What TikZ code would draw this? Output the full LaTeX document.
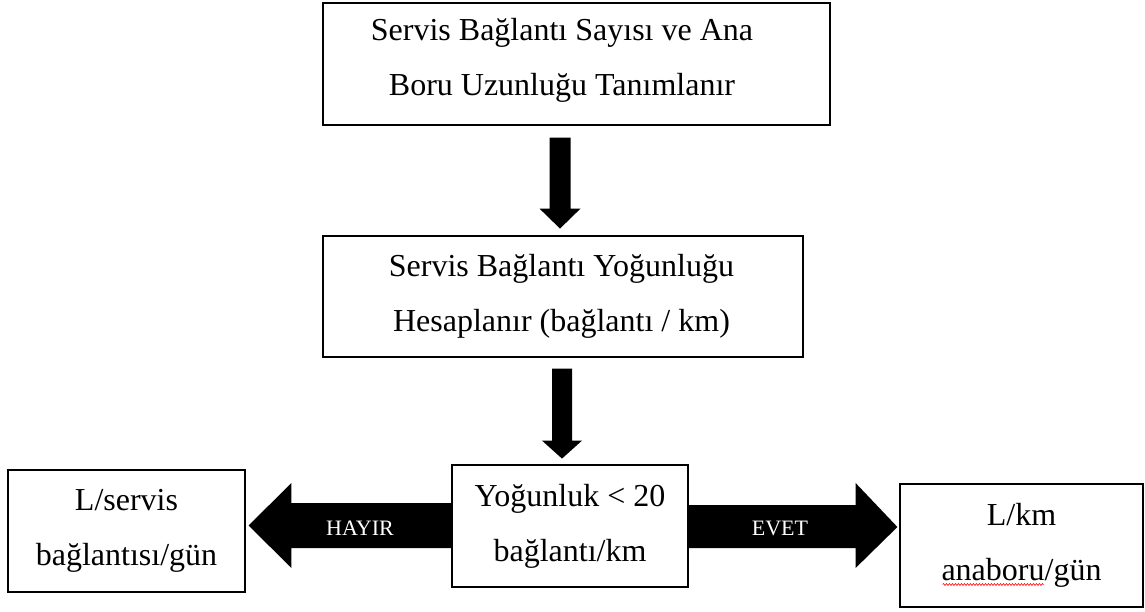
\documentclass[tikz,border=0pt]{standalone}
\usepackage{fontspec}
\setmainfont{Liberation Serif}
\usetikzlibrary{calc,decorations.pathmorphing}
\begin{document}
\begin{tikzpicture}[x=1pt,y=-1pt,
  box/.style={draw, line width=1.2pt, align=center, inner sep=0pt,
    font=\fontsize{32}{55}\selectfont},
  txt/.style={align=center, inner sep=0pt, font=\fontsize{32}{55}\selectfont},
  lbl/.style={text=white, font=\fontsize{22}{24}\selectfont, inner sep=0pt}]
\useasboundingbox (0,0) rectangle (1145,612);
\node[box, minimum width=507, minimum height=122] (b1) at (576.5,64) {};
\node[txt] (b1t) at (562,60) {Servis Bağlantı Sayısı ve Ana\\Boru Uzunluğu Tanımlanır};
\node[box, minimum width=480, minimum height=121] (b2) at (563,296.5) {};
\node[txt] (b2t) at (561.5,296) {Servis Bağlantı Yoğunluğu\\Hesaplanır (bağlantı / km)};
\node[box, minimum width=236, minimum height=122] (b3) at (570,526) {Yoğunluk < 20\\bağlantı/km};
\node[box, minimum width=237, minimum height=122] (bl) at (126.5,531) {L/servis\\bağlantısı/gün};
\node[box, minimum width=243, minimum height=123] (br) at (1021.5,545.5) {L/km\\anaboru/gün};
% down arrows
\fill ($(b1.south)+(-27,12)$) coordinate (a1) -- ++(21,0) -- ++(0,71) -- ++(10,0) -- ++(-20.5,20) -- ++(-20.5,-20) -- ++(10,0) -- cycle;
\fill ($(b2.south)+(-11,11)$) coordinate (a2) -- ++(20,0) -- ++(0,72) -- ++(10,0) -- ++(-20,18) -- ++(-20,-18) -- ++(10,0) -- cycle;
% left block arrow
\fill ($(b3.west)+(0,-23)$) -- ($(b3.west)+(-160,-23)$) -- ($(b3.west)+(-160,-43)$) -- ($(bl.east)+(3,-5.5)$) -- ($(b3.west)+(-160,42)$) -- ($(b3.west)+(-160,22)$) -- ($(b3.west)+(0,22)$) -- cycle;
% right block arrow
\fill ($(b3.east)+(0,-21)$) -- ($(b3.east)+(167,-21)$) -- ($(b3.east)+(167,-43)$) -- ($(br.west)+(-2,-18.5)$) -- ($(b3.east)+(167,42)$) -- ($(b3.east)+(167,22)$) -- ($(b3.east)+(0,22)$) -- cycle;
\node[lbl] (hayir) at (360,528) {HAYIR};
\node[lbl] (evet) at (780,528) {EVET};
\draw[red, line width=0.6pt, decorate, decoration={snake, amplitude=1pt, segment length=3pt}] ($(br.center)+(-79,39)$) coordinate (s1) -- ($(br.center)+(22,39)$) coordinate (s2);
\end{tikzpicture}
\end{document}
